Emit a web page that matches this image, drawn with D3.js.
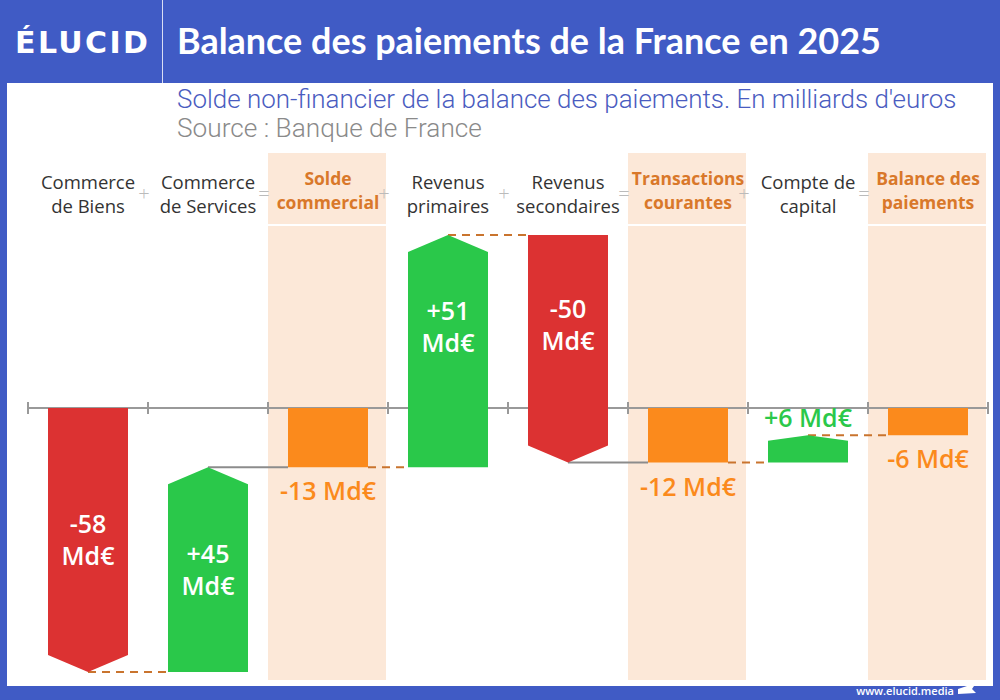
<!DOCTYPE html>
<html>
<head>
<meta charset="utf-8">
<script src="https://cdn.jsdelivr.net/npm/d3@7"></script>
<style>
  body { margin: 0; background: #405bc5; }
  svg { display: block; }
</style>
</head>
<body>
<div id="chart"></div>
<script>
// data (milliards d'euros)
var categories = [
  ["Commerce", "de Biens"],
  ["Commerce", "de Services"],
  ["Solde", "commercial"],
  ["Revenus", "primaires"],
  ["Revenus", "secondaires"],
  ["Transactions", "courantes"],
  ["Compte de", "capital"],
  ["Balance des", "paiements"]
];
var values = [-58, 45, -13, 51, -50, -12, 6, -6];
var isTotal = [false, false, true, false, false, true, false, true];
var operators = ["+", "=", "+", "+", "=", "+", "="];
var title = "Balance des paiements de la France en 2025";
var subtitle = "Solde non-financier de la balance des paiements. En milliards d'euros";
var source = "Source : Banque de France";

var W = 1000, H = 700;
var blue = "#405bc5", red = "#dc3232", green = "#2ac84a", orange = "#fb8a1c",
    peach = "#fce8d8", darkOrange = "#d9782a", linkOrange = "#c9742e";

var svg = d3.select("#chart").append("svg")
    .attr("width", W)
    .attr("height", H);

svg.append("rect").attr("width", W).attr("height", H).attr("fill", blue);
svg.append("rect")
    .attr("x", 7).attr("y", 83)
    .attr("width", 986).attr("height", 603)
    .attr("fill", "#fff");

// fit a text to a given width by tuning its font size
function fit(sel, w) {
  var fs = parseFloat(sel.style("font-size"));
  var len = sel.node().getComputedTextLength();
  sel.style("font-size", (fs * w / len) + "px");
  return sel;
}

// header
svg.append("line")
    .attr("x1", 162.5).attr("x2", 162.5)
    .attr("y1", 0).attr("y2", 83)
    .attr("stroke", "#fff").attr("stroke-opacity", 0.8);

var logo = svg.append("text")
    .attr("x", 15).attr("y", 53)
    .style("font-family", "DejaVu Sans")
    .style("font-weight", 700)
    .style("font-size", "30px")
    .attr("fill", "#fff")
    .text("ÉLUCID");
var spare = (133 - logo.node().getComputedTextLength()) / 5;
logo.style("letter-spacing", spare + "px");

fit(svg.append("text")
    .attr("x", 177).attr("y", 54)
    .style("font-family", "Lato")
    .style("font-weight", 700)
    .style("font-size", "30px")
    .attr("fill", "#fff")
    .text(title), 704);

fit(svg.append("text")
    .attr("x", 177).attr("y", 108)
    .style("font-family", "Roboto")
    .style("font-weight", 300)
    .style("font-size", "21px")
    .attr("fill", "#4a5cc0")
    .text(subtitle), 780);

fit(svg.append("text")
    .attr("x", 177).attr("y", 137)
    .style("font-family", "Roboto")
    .style("font-weight", 300)
    .style("font-size", "21px")
    .attr("fill", "#8a8a8a")
    .text(source), 305);

// scales
var idx = d3.range(categories.length);
var x = d3.scaleBand().domain(idx).range([28, 988]).paddingInner(1 / 3).paddingOuter(1 / 6);
var xEdge = d3.scaleLinear().domain([0, categories.length]).range([28, 988]);
var y = d3.scaleLinear().domain([-60, 40]).range([681, 226]);

// waterfall steps
var running = 0;
var steps = values.map(function(v, i) {
  var s;
  if (isTotal[i]) {
    s = {start: 0, end: v};
  } else {
    s = {start: running, end: running + v};
  }
  running = s.end;
  s.value = v;
  s.total = isTotal[i];
  s.i = i;
  return s;
});

// highlighted total columns
steps.filter(function(d) { return d.total; }).forEach(function(d) {
  svg.append("rect")
      .attr("x", xEdge(d.i)).attr("y", 153)
      .attr("width", xEdge(1) - xEdge(0) - 2).attr("height", 71)
      .attr("fill", peach);
  svg.append("rect")
      .attr("x", xEdge(d.i)).attr("y", 226)
      .attr("width", xEdge(1) - xEdge(0) - 2).attr("height", 454)
      .attr("fill", peach);
});

// column headers
var heads = svg.append("g").selectAll("text")
    .data(categories)
    .enter().append("text")
    .attr("text-anchor", "middle")
    .attr("x", function(d, i) { return x(i) + x.bandwidth() / 2; })
    .attr("y", function(d, i) { return isTotal[i] ? 185 : 189; })
    .style("font-family", "Open Sans")
    .style("font-size", function(d, i) { return isTotal[i] ? "17.5px" : "18.5px"; })
    .style("font-weight", function(d, i) { return isTotal[i] ? 700 : 500; })
    .attr("fill", function(d, i) { return isTotal[i] ? darkOrange : "#333"; });
heads.selectAll("tspan")
    .data(function(d) { return d; })
    .enter().append("tspan")
    .attr("x", function() { return d3.select(this.parentNode).attr("x"); })
    .attr("dy", function(d, j) { return j ? 24 : 0; })
    .text(function(d) { return d; });

svg.append("g").selectAll("text")
    .data(operators)
    .enter().append("text")
    .attr("text-anchor", "middle")
    .attr("x", function(d, i) { return xEdge(i + 1) - 4; })
    .attr("y", 201)
    .style("font-family", "Open Sans")
    .style("font-weight", 300)
    .style("font-size", "20px")
    .attr("fill", "#bbb")
    .text(function(d) { return d; });

// zero axis with column ticks
var y0 = y(0);
svg.append("line")
    .attr("x1", xEdge(0)).attr("x2", xEdge(categories.length))
    .attr("y1", y0).attr("y2", y0)
    .attr("stroke", "#999").attr("stroke-width", 2);
svg.append("g").selectAll("line")
    .data(d3.range(categories.length + 1))
    .enter().append("line")
    .attr("x1", function(d) { return xEdge(d); })
    .attr("x2", function(d) { return xEdge(d); })
    .attr("y1", y0 - 6).attr("y2", y0 + 6)
    .attr("stroke", "#999").attr("stroke-width", 2);

// connectors
var solidLinks = [1, 4];
steps.slice(0, -1).forEach(function(d, i) {
  var next = steps[i + 1];
  var x1 = d.total ? x(i) + x.bandwidth() : x(i) + x.bandwidth() / 2;
  var solid = solidLinks.indexOf(i) >= 0;
  svg.append("line")
      .attr("x1", x1).attr("x2", x(next.i))
      .attr("y1", y(d.end)).attr("y2", y(d.end))
      .attr("stroke", solid ? "#8c8c8c" : linkOrange)
      .attr("stroke-width", 2)
      .attr("stroke-dasharray", solid ? null : "8,6");
});

// bars
function barPath(d) {
  var x0 = x(d.i), x1 = x0 + x.bandwidth(), xc = x0 + x.bandwidth() / 2;
  var ys = y(d.start), ye = y(d.end);
  if (d.total) {
    return "M" + x0 + "," + ys + "H" + x1 + "V" + ye + "H" + x0 + "Z";
  }
  var dir = ye > ys ? 1 : -1;
  var a = Math.min(17, Math.abs(ye - ys) * 0.2);
  return "M" + x0 + "," + ys + "L" + x1 + "," + ys +
      "L" + x1 + "," + (ye - dir * a) + "L" + xc + "," + ye +
      "L" + x0 + "," + (ye - dir * a) + "Z";
}

svg.append("g").selectAll("path")
    .data(steps)
    .enter().append("path")
    .attr("d", barPath)
    .attr("fill", function(d) { return d.total ? orange : (d.value > 0 ? green : red); });

// value labels
function fmt(v) { return (v > 0 ? "+" : "") + v; }

steps.forEach(function(d) {
  var xc = x(d.i) + x.bandwidth() / 2;
  var col = d.total ? orange : (d.value > 0 ? green : red);
  var t = svg.append("text")
      .attr("text-anchor", "middle")
      .attr("x", xc)
      .style("font-family", "Open Sans")
      .style("font-weight", 600)
      .style("font-size", "25px");
  if (Math.abs(d.value) > 20) {
    var mid = (y(d.start) + y(d.end)) / 2;
    if (mid < y0) mid -= 24;
    t.attr("fill", "#fff").attr("y", mid - 7);
    t.append("tspan").attr("x", xc).text(fmt(d.value));
    t.append("tspan").attr("x", xc).attr("dy", 32).text("Md€");
  } else if (d.value > 0) {
    t.attr("fill", col).attr("y", y(d.end) - 8).text(fmt(d.value) + " Md€");
  } else {
    t.attr("fill", col).attr("y", y(Math.min(d.start, d.end)) + 33).text(fmt(d.value) + " Md€");
  }
});

// footer
svg.append("text")
    .attr("x", 954).attr("y", 695)
    .attr("text-anchor", "end")
    .style("font-family", "Open Sans")
    .style("font-weight", 600)
    .style("font-size", "11px")
    .attr("fill", "#fff")
    .text("www.elucid.media");
svg.append("path")
    .attr("d", "M958,689 L976,683 L972,689 L976,693 L958,694 Z")
    .attr("fill", "#fff");
</script>
</body>
</html>
